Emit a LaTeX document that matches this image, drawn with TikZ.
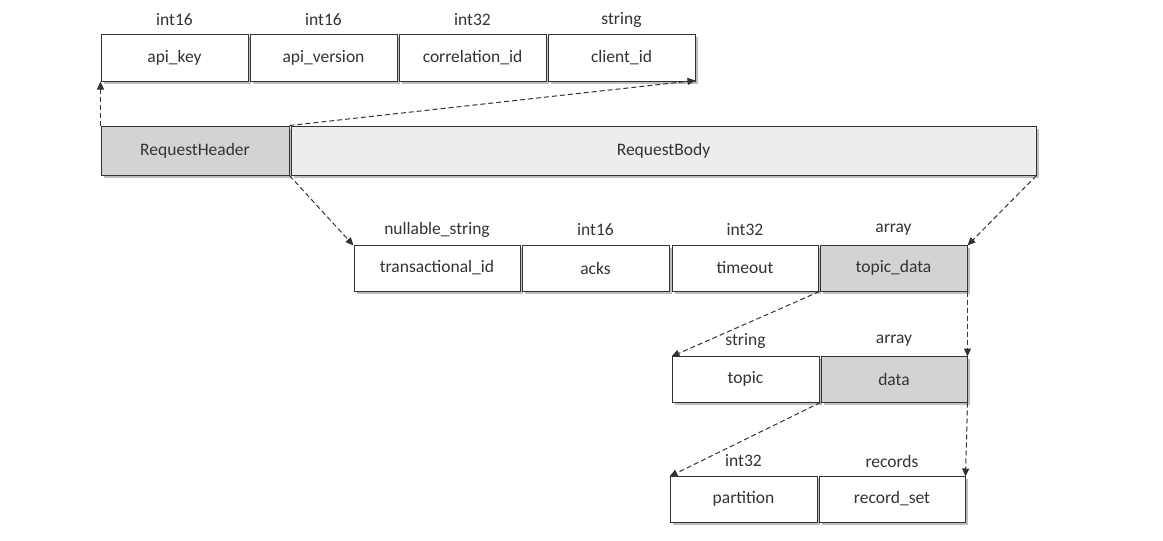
\documentclass[tikz,border=0pt]{standalone}
\usepackage{fontspec}
\setmainfont{Carlito}
\usetikzlibrary{arrows.meta,shadows}
\definecolor{txt}{HTML}{333333}
\definecolor{hdrfill}{HTML}{D3D3D3}
\definecolor{bodyfill}{HTML}{EDEDED}
\begin{document}
\begin{tikzpicture}[x=1pt,y=-1pt,
  fieldbox/.style={draw=black!80,line width=1pt,fill=white,minimum height=47pt,inner sep=0pt,
    font=\fontsize{17.5}{20}\selectfont,text=txt,
    drop shadow={shadow xshift=2.5pt,shadow yshift=-3pt,opacity=0.5,fill=black!50}},
  grayfield/.style={fieldbox,fill=hdrfill},
  typelbl/.style={font=\fontsize{17.5}{20}\selectfont,text=txt,inner sep=0pt},
  link/.style={dashed,dash pattern=on 5pt off 3pt,line width=1pt,draw=txt,-{Triangle[length=8pt,width=7pt]}}]
\useasboundingbox (0,0) rectangle (1163,541);
% row 1
\node[fieldbox,minimum width=147pt] (apikey) at (174.5,57.5) {api\_key};
\node[fieldbox,minimum width=147pt] (apiver) at (323.5,57.5) {api\_version};
\node[fieldbox,minimum width=147pt] (corrid) at (472.5,57.5) {correlation\_id};
\node[fieldbox,minimum width=147pt] (clientid) at (621.5,57.5) {client\_id};
\node[typelbl] (t1) at (174.5,20) {int16};
\node[typelbl] (t2) at (323.5,20) {int16};
\node[typelbl] (t3) at (472.5,20) {int32};
\node[typelbl] (t4) at (621.5,20) {string};
% row 2
\node[grayfield,minimum width=188pt,minimum height=49pt] (hdr) at (195,150.5) {RequestHeader};
\node[fieldbox,fill=bodyfill,minimum width=745pt,minimum height=49pt] (body) at (663.5,150.5) {RequestBody};
% row 3
\node[fieldbox,minimum width=166pt,minimum height=46pt] (txid) at (437,268) {transactional\_id};
\node[fieldbox,minimum width=147pt,minimum height=46pt] (acks) at (595.5,268) {acks};
\node[fieldbox,minimum width=146pt,minimum height=46pt] (timeout) at (745,268) {timeout};
\node[grayfield,minimum width=147pt,minimum height=46pt] (tdata) at (893.5,268) {topic\_data};
\node[typelbl] (t5) at (437,230) {nullable\_string};
\node[typelbl] (t6) at (595.5,230) {int16};
\node[typelbl] (t7) at (745,230) {int32};
\node[typelbl] (t8) at (893.5,230) {array};
% row 4
\node[fieldbox,minimum width=147pt,minimum height=46pt] (topic) at (745.5,379) {topic};
\node[grayfield,minimum width=146pt,minimum height=46pt] (data) at (894,379) {data};
\node[typelbl] (t9) at (745.5,341) {string};
\node[typelbl] (t10) at (894,341) {array};
% row 5
\node[fieldbox,minimum width=147pt,minimum height=46pt] (part) at (743.5,499) {partition};
\node[fieldbox,minimum width=146pt,minimum height=46pt] (recset) at (892,499) {record\_set};
\node[typelbl] (t11) at (743.5,461) {int32};
\node[typelbl] (t12) at (892,461) {records};
% connectors
\draw[link] (hdr.north west) -- (apikey.south west);
\draw[link] (hdr.north east) -- ([yshift=1pt]clientid.south east);
\draw[link] (hdr.south east) -- ([yshift=-1pt]txid.north west);
\draw[link] (body.south east) -- ([yshift=-1pt]tdata.north east);
\draw[link] (tdata.south west) -- ([yshift=-1pt]topic.north west);
\draw[link] (tdata.south east) -- ([yshift=-1pt]data.north east);
\draw[link] (data.south west) -- ([yshift=-1pt]part.north west);
\draw[link] (data.south east) -- ([yshift=-1pt]recset.north east);
\end{tikzpicture}
\end{document}
